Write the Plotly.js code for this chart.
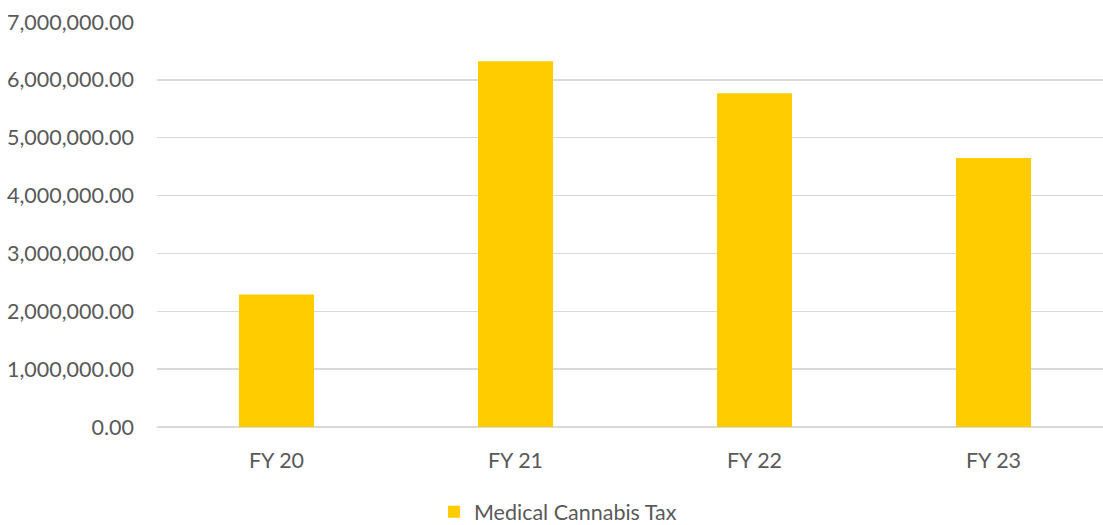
<!DOCTYPE html>
<html>
<head>
<meta charset="utf-8">
<script src="https://cdn.plot.ly/plotly-3.0.1.min.js"></script>
<style>
html,body{margin:0;padding:0;background:#fff;overflow:hidden;}
#wrap{width:1103px;height:525px;overflow:hidden;}
#chart{width:1113px;height:525px;}
</style>
</head>
<body>
<div id="wrap"><div id="chart"></div></div>
<script>
const categories = ["FY 20", "FY 21", "FY 22", "FY 23"];
const taxValues = [2290000, 6320000, 5770000, 4650000];
const seriesName = "Medical Cannabis Tax";
const tickValues = [0, 1000000, 2000000, 3000000, 4000000, 5000000, 6000000, 7000000];

const font = {family: "Lato, 'Open Sans', sans-serif", size: 21.5, color: "#595959"};

Plotly.newPlot("chart", [{
  type: "bar",
  x: categories,
  y: taxValues,
  name: seriesName,
  marker: {color: "#ffcc00"},
  width: 0.314,
  showlegend: true
}], {
  width: 1113,
  height: 525,
  margin: {l: 157, r: 0, t: 22, b: 98, autoexpand: false},
  paper_bgcolor: "#ffffff",
  plot_bgcolor: "#ffffff",
  font: font,
  xaxis: {
    type: "category",
    range: [-0.5, 3.5],
    showgrid: false,
    showline: false,
    zeroline: false,
    ticks: "",
    automargin: false,
    ticklabelstandoff: 18,
    tickfont: font
  },
  yaxis: {
    range: [0, 7000000],
    tickvals: tickValues,
    tickformat: ",.2f",
    showgrid: true,
    gridcolor: "#d9d9d9",
    gridwidth: 1.5,
    zeroline: true,
    zerolinecolor: "#d9d9d9",
    zerolinewidth: 1.5,
    showline: false,
    ticks: "",
    automargin: false,
    ticklabelstandoff: 22,
    tickfont: font
  },
  legend: {
    orientation: "h",
    xref: "container",
    yref: "container",
    x: 0.5013,
    xanchor: "center",
    y: 0.025,
    yanchor: "middle",
    font: font,
    itemwidth: 30
  }
}, {displayModeBar: false, staticPlot: true});
</script>
</body>
</html>
